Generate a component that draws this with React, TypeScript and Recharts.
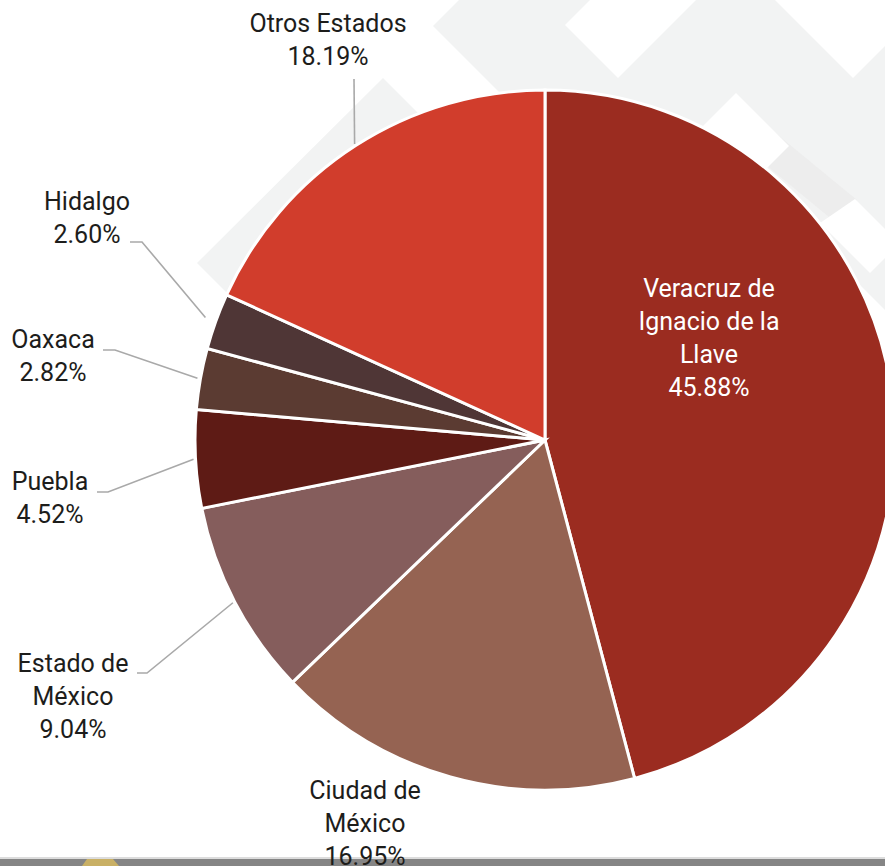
import { PieChart, Pie, Cell } from 'recharts'

// participación por entidad federativa (%)
const estados = [
  'Veracruz de Ignacio de la Llave',
  'Ciudad de México',
  'Estado de México',
  'Puebla',
  'Oaxaca',
  'Hidalgo',
  'Otros Estados',
]
const porcentajes = [45.88, 16.95, 9.04, 4.52, 2.82, 2.6, 18.19]
const etiquetas = [
  ['Veracruz de', 'Ignacio de la', 'Llave'],
  ['Ciudad de', 'México'],
  ['Estado de', 'México'],
  ['Puebla'],
  ['Oaxaca'],
  ['Hidalgo'],
  ['Otros Estados'],
]
const colores = ['#9b2c20', '#956352', '#855d5c', '#5e1b15', '#5b3b32', '#4f3636', '#d13d2c']

const data = estados.map((name, i) => ({ name, value: porcentajes[i] }))

// posición de cada etiqueta (centro del texto, primera línea base) y guía
const layout: { x: number; y: number; inside?: boolean; gap?: number; leader?: [number, number][] }[] = [
  { x: 709, y: 297, inside: true },
  { x: 365, y: 799 },
  { x: 73, y: 672, gap: 2, leader: [[147, 673], [137, 673]] },
  { x: 50, y: 490, gap: 2, leader: [[108, 492], [97, 492]] },
  { x: 53, y: 348, gap: 3, leader: [[115, 350], [103, 350]] },
  { x: 87, y: 210, gap: 11, leader: [[142, 242], [130, 242]] },
  { x: 328, y: 32, gap: 2, leader: [[354, 79]] },
]

const RAD = Math.PI / 180
const LINE_H = 33

// eslint-disable-next-line @typescript-eslint/no-explicit-any
function renderLabel(props: any) {
  const { cx, cy, midAngle, outerRadius, index } = props
  const l = layout[index]
  const lines = [...etiquetas[index], porcentajes[index].toFixed(2) + '%']
  let path = null
  if (l.leader) {
    const r = outerRadius + (l.gap ?? 2)
    const sx = cx + Math.cos(-midAngle * RAD) * r
    const sy = cy + Math.sin(-midAngle * RAD) * r
    const pts = [[sx, sy], ...l.leader].map(p => p.join(',')).join(' ')
    path = <polyline points={pts} fill="none" stroke="#a9a9a9" strokeWidth={1.6} />
  }
  return (
    <g key={index}>
      {path}
      <text
        x={l.x}
        y={l.y}
        textAnchor="middle"
        fill={l.inside ? '#ffffff' : '#1d1d1b'}
        fontSize={25}
        fontFamily="Roboto, sans-serif"
      >
        {lines.map((t, i) => (
          <tspan key={i} x={l.x} y={l.y + i * LINE_H}>{t}</tspan>
        ))}
      </text>
    </g>
  )
}

function Fondo() {
  const gris = '#f2f3f3'
  return (
    <svg width={885} height={866} style={{ position: 'absolute', left: 0, top: 0 }}>
      {/* marca de agua en diagonal */}
      <polygon points="433,26 459,0 885,0 885,310 820,245 600,300 520,113" fill={gris} />
      <polygon points="197,263 383,78 470,165 240,306" fill={gris} />
      <polygon points="767,126 857,200 835,222 760,160" fill="#ededed" />
      <polygon points="565,25 618,78 696,0 590,0" fill="#fff" />
      <polygon points="775,0 853,78 885,46 885,0" fill="#fff" />
      <polygon points="736,93 789,146 700,235 690,139" fill="#fff" />
      <polygon points="855,199 885,229 885,258 870,273 820,223" fill="#fff" />
      {/* franja inferior */}
      <rect x={0} y={857} width={885} height={2} fill="#dcdcdc" />
      <rect x={0} y={859} width={885} height={7} fill="#858585" />
      <polygon points="82,866 87,859 113,859 119,866" fill="#c9b065" />
    </svg>
  )
}

export default function App() {
  return (
    <div style={{ position: 'absolute', left: 0, top: 0, width: 885, height: 866, overflow: 'hidden', background: '#fff' }}>
      <Fondo />
      <div style={{ position: 'absolute', left: 0, top: 0 }}>
        <PieChart width={885} height={866} margin={{ top: 0, right: 0, bottom: 0, left: 0 }} style={{ overflow: 'visible' }}>
          <Pie
            data={data}
            dataKey="value"
            nameKey="name"
            cx={545}
            cy={440}
            outerRadius={350}
            startAngle={90}
            endAngle={-270}
            stroke="#ffffff"
            strokeWidth={3}
            label={renderLabel}
            labelLine={false}
            isAnimationActive={false}
          >
            {data.map((d, i) => (
              <Cell key={d.name} fill={colores[i]} />
            ))}
          </Pie>
        </PieChart>
      </div>
    </div>
  )
}
